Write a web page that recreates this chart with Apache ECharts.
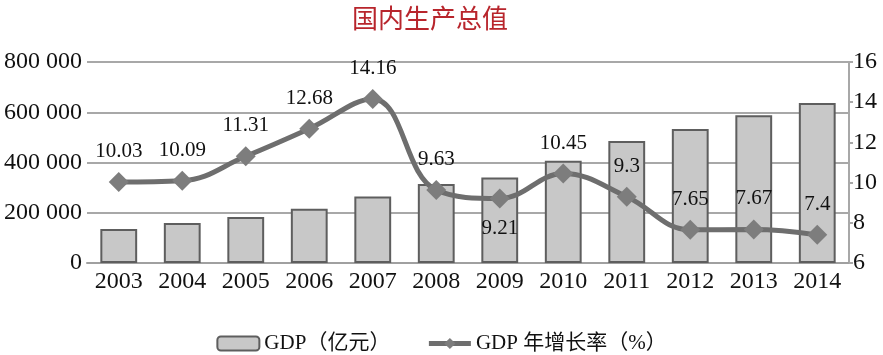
<!DOCTYPE html>
<html><head><meta charset="utf-8">
<script src="https://cdn.jsdelivr.net/npm/echarts@6/dist/echarts.min.js"></script>
<style>html,body{margin:0;padding:0;background:#fff}#c{width:883px;height:355px}</style>
</head><body><div id="c"></div>
<script>
const years = ['2003','2004','2005','2006','2007','2008','2009','2010','2011','2012','2013','2014'];
const gdp = [135000,159000,183000,216000,265000,314000,340000,407000,486000,533000,588000,637000];
const growth = [10.03,10.09,11.31,12.68,14.16,9.63,9.21,10.45,9.3,7.65,7.67,7.4];
const leftTicks = [0,200000,400000,600000,800000];
const serif = '"Liberation Serif","Noto Sans CJK SC",serif';
const chart = echarts.init(document.getElementById('c'));
chart.setOption({
  animation:false,
  title:{text:'国内生产总值',left:425,textAlign:'center',top:0,textStyle:{color:'#b8252c',fontSize:26,fontWeight:'normal',fontFamily:'"Noto Sans CJK SC",sans-serif'}},
  legend:{bottom:-4,itemGap:36,itemWidth:42,itemHeight:14,textStyle:{fontFamily:serif,fontSize:21,color:'#111'},
    data:[{name:'GDP（亿元）'},{name:'GDP 年增长率（%）',lineStyle:{width:5}}]},
  grid:{left:87,right:34,top:62,bottom:92},
  xAxis:{type:'category',data:years,axisTick:{show:false},
    axisLine:{lineStyle:{color:'#a0a0a0',width:2}},
    axisLabel:{fontFamily:serif,fontSize:24,color:'#111',margin:7}},
  yAxis:[{type:'value',min:0,max:800000,interval:200000,
    axisLine:{show:false},axisTick:{show:false},
    splitLine:{lineStyle:{color:'#a8a8a8',width:2}},
    axisLabel:{fontFamily:serif,fontSize:24,color:'#111',margin:5,
      formatter:v=>String(v).replace(/\B(?=(\d{3})+(?!\d))/g,' ')}},
   {type:'value',min:6,max:16,interval:2,position:'right',
    axisLine:{show:true,lineStyle:{color:'#a8a8a8',width:2}},
    axisTick:{show:true,length:4,lineStyle:{color:'#a8a8a8',width:2}},
    splitLine:{show:false},
    axisLabel:{fontFamily:serif,fontSize:24,color:'#111',margin:4}}],
  series:[
    {name:'GDP（亿元）',type:'bar',data:gdp,barWidth:'58%',
     itemStyle:{color:'#c8c8c8',borderColor:'#5e5e5e',borderWidth:2}},
    {name:'GDP 年增长率（%）',type:'line',yAxisIndex:1,data:growth.map((v,i)=>i===6?{value:v,label:{position:'bottom',distance:10}}:v),
     smooth:0.4,symbol:'diamond',symbolSize:20,
     lineStyle:{color:'#6e6e6e',width:5},itemStyle:{color:'#7d7d7d'},
     label:{show:true,position:'top',distance:10,fontFamily:serif,fontSize:21,color:'#111'}}
  ]
});
</script></body></html>
